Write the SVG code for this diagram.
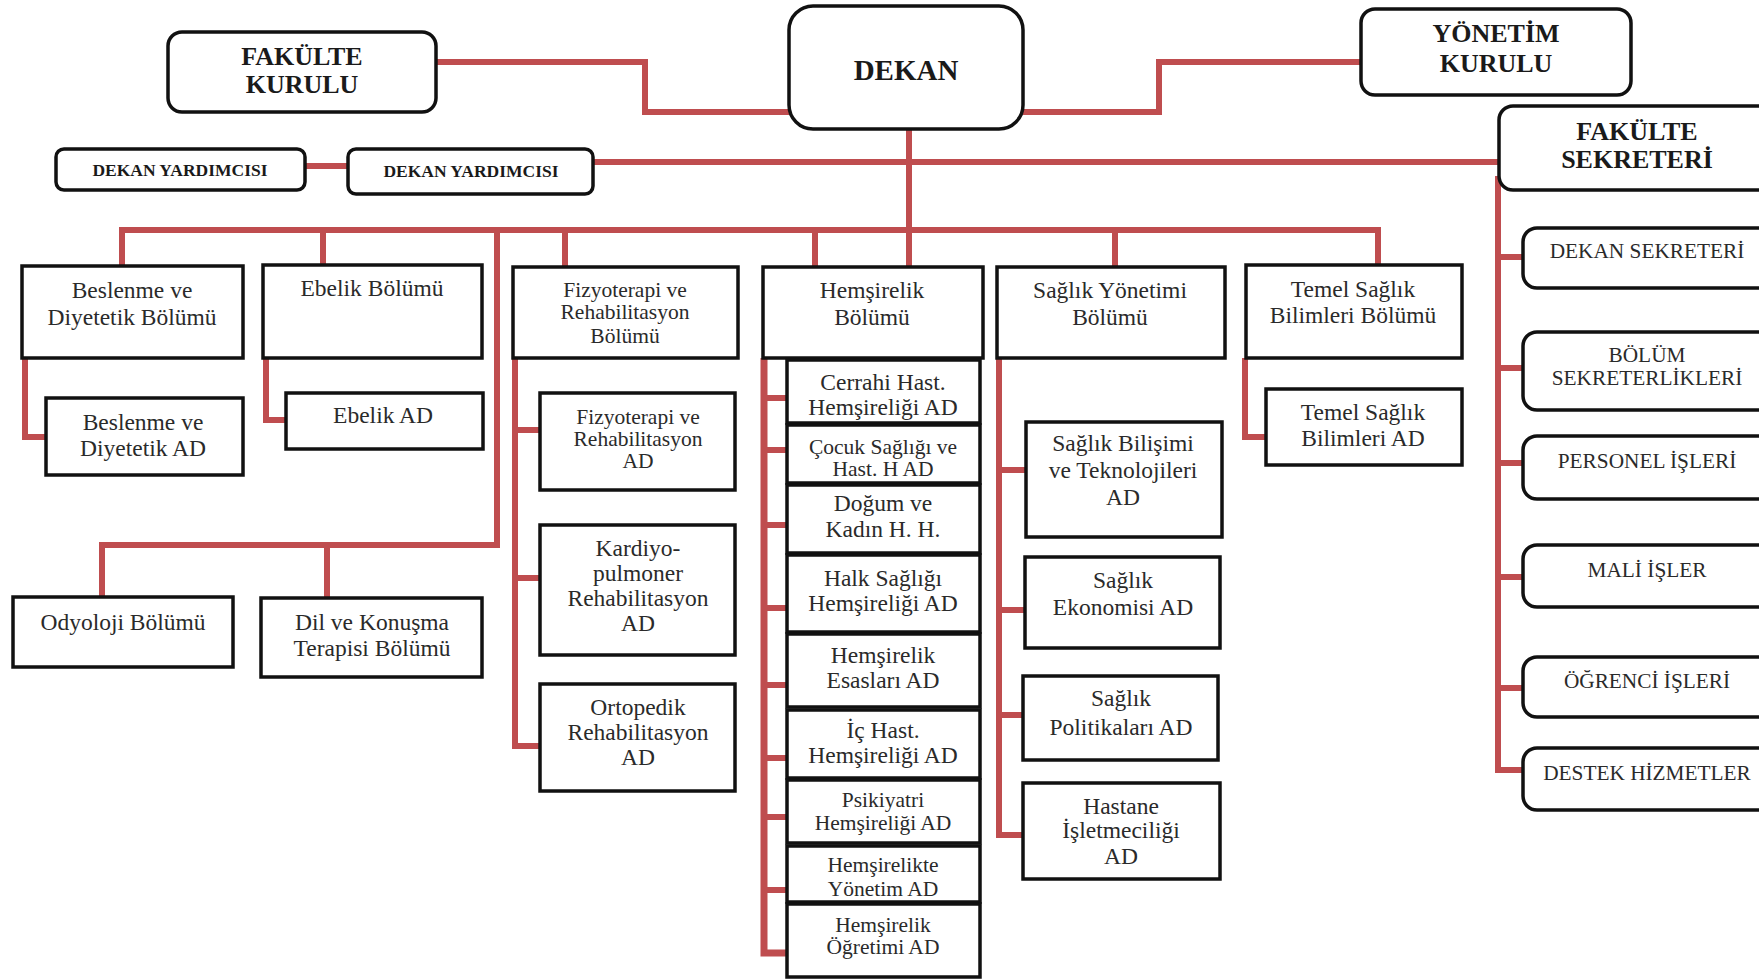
<svg xmlns="http://www.w3.org/2000/svg" width="1759" height="979" viewBox="0 0 1759 979">
<style>
  .bg{fill:#ffffff}
  .rb{fill:#fff;stroke:#111;stroke-width:3.5}
  .sq{fill:#fff;stroke:#111;stroke-width:3.5}
  .ln{fill:none;stroke:#bf4d4f;stroke-width:6;stroke-linejoin:miter;stroke-linecap:butt}
  text{font-family:"Liberation Serif","Times New Roman",serif;fill:#2a2a2a;text-anchor:middle}
  .tb{font-weight:bold;font-size:26px;fill:#1a1a1a}
  .tk{font-weight:bold;font-size:29px;fill:#1a1a1a}
  .ty{font-weight:bold;font-size:17.5px;fill:#1a1a1a}
  .tr{font-size:21.3px}
  .t24{font-size:23.5px}
  .t22{font-size:21.5px}
</style>
<rect class="bg" x="0" y="0" width="1759" height="979"/>

<g id="connectors">
  <path class="ln" d="M436 62 H645 V112 H789"/>
  <path class="ln" d="M1023 112 H1159 V62 H1361"/>
  <path class="ln" d="M305 166 H348"/>
  <path class="ln" d="M593 162 H1499"/>
  <path class="ln" d="M909 129 V267"/>
  <path class="ln" d="M122 267 V230 H1378 V265"/>
  <path class="ln" d="M323 230 V265"/>
  <path class="ln" d="M497 230 V545 H102 V597"/>
  <path class="ln" d="M327 545 V598"/>
  <path class="ln" d="M565 230 V267"/>
  <path class="ln" d="M815 230 V267"/>
  <path class="ln" d="M1115 230 V267"/>
  <path class="ln" d="M25 358 V437 H46"/>
  <path class="ln" d="M266 358 V420 H286"/>
  <path class="ln" d="M515 358 V746 H540"/>
  <path class="ln" d="M515 430 H540"/>
  <path class="ln" d="M515 578 H540"/>
  <path class="ln" d="M764 358 V953 H787" style="stroke-width:7"/>
  <path class="ln" d="M764 398 H787"/>
  <path class="ln" d="M764 450 H787"/>
  <path class="ln" d="M764 525 H787"/>
  <path class="ln" d="M764 608 H787"/>
  <path class="ln" d="M764 685 H787"/>
  <path class="ln" d="M764 758 H787"/>
  <path class="ln" d="M764 817 H787"/>
  <path class="ln" d="M764 890 H787"/>
  <path class="ln" d="M999 358 V835 H1023"/>
  <path class="ln" d="M999 470 H1026"/>
  <path class="ln" d="M999 610 H1025"/>
  <path class="ln" d="M999 715 H1023"/>
  <path class="ln" d="M1245 358 V437 H1266"/>
  <path class="ln" d="M1498 176 V770 H1523"/>
  <path class="ln" d="M1498 257 H1523"/>
  <path class="ln" d="M1498 368 H1523"/>
  <path class="ln" d="M1498 463 H1523"/>
  <path class="ln" d="M1498 577 H1523"/>
  <path class="ln" d="M1498 688 H1523"/>
</g>

<g id="fakulte-kurulu"><rect class="rb" x="168" y="32" width="268" height="80" rx="14"/>
  <text class="tb" x="302" y="65">FAKÜLTE</text><text class="tb" x="302" y="93">KURULU</text></g>
<g id="dekan"><rect class="rb" x="789" y="6" width="234" height="123" rx="24"/>
  <text class="tk" x="906" y="80">DEKAN</text></g>
<g id="yonetim-kurulu"><rect class="rb" x="1361" y="9" width="270" height="86" rx="14"/>
  <text class="tb" x="1496" y="42">YÖNETİM</text><text class="tb" x="1496" y="72">KURULU</text></g>
<g id="fakulte-sekreteri"><rect class="rb" x="1499" y="106" width="290" height="84" rx="14"/>
  <text class="tb" x="1637" y="140">FAKÜLTE</text><text class="tb" x="1637" y="168">SEKRETERİ</text></g>
<g id="dekan-yardimcisi-1"><rect class="rb" x="56" y="149" width="249" height="41" rx="8"/>
  <text class="ty" x="180" y="176">DEKAN YARDIMCISI</text></g>
<g id="dekan-yardimcisi-2"><rect class="rb" x="348" y="149" width="245" height="45" rx="8"/>
  <text class="ty" x="471" y="177">DEKAN YARDIMCISI</text></g>

<g id="dekan-sekreteri"><rect class="rb" x="1523" y="228" width="270" height="60" rx="14"/>
  <text class="tr" x="1647" y="258">DEKAN SEKRETERİ</text></g>
<g id="bolum-sekreterlikleri"><rect class="rb" x="1523" y="332" width="270" height="78" rx="14"/>
  <text class="tr" x="1647" y="362">BÖLÜM</text><text class="tr" x="1647" y="385">SEKRETERLİKLERİ</text></g>
<g id="personel-isleri"><rect class="rb" x="1523" y="436" width="270" height="63" rx="14"/>
  <text class="tr" x="1647" y="468">PERSONEL İŞLERİ</text></g>
<g id="mali-isler"><rect class="rb" x="1523" y="545" width="270" height="62" rx="14"/>
  <text class="tr" x="1647" y="577">MALİ İŞLER</text></g>
<g id="ogrenci-isleri"><rect class="rb" x="1523" y="657" width="270" height="60" rx="14"/>
  <text class="tr" x="1647" y="688">ÖĞRENCİ İŞLERİ</text></g>
<g id="destek-hizmetler"><rect class="rb" x="1523" y="748" width="270" height="62" rx="14"/>
  <text class="tr" x="1647" y="780">DESTEK HİZMETLER</text></g>

<g id="beslenme-bolumu"><rect class="sq" x="22" y="266" width="221" height="92"/>
  <text class="t24" x="132" y="298">Beslenme ve</text><text class="t24" x="132" y="325">Diyetetik Bölümü</text></g>
<g id="beslenme-ad"><rect class="sq" x="46" y="398" width="197" height="77"/>
  <text class="t24" x="143" y="430">Beslenme ve</text><text class="t24" x="143" y="456">Diyetetik AD</text></g>
<g id="ebelik-bolumu"><rect class="sq" x="263" y="265" width="219" height="93"/>
  <text class="t24" x="372" y="296">Ebelik Bölümü</text></g>
<g id="ebelik-ad"><rect class="sq" x="286" y="393" width="197" height="56"/>
  <text class="t24" x="383" y="423">Ebelik AD</text></g>
<g id="odyoloji"><rect class="sq" x="13" y="597" width="220" height="70"/>
  <text class="t24" x="123" y="630">Odyoloji Bölümü</text></g>
<g id="dil-konusma"><rect class="sq" x="261" y="598" width="221" height="79"/>
  <text class="t24" x="372" y="630">Dil ve Konuşma</text><text class="t24" x="372" y="656">Terapisi Bölümü</text></g>

<g id="fizyoterapi-bolumu"><rect class="sq" x="513" y="267" width="225" height="91"/>
  <text class="t22" x="625" y="297">Fizyoterapi ve</text><text class="t22" x="625" y="319">Rehabilitasyon</text><text class="t22" x="625" y="343">Bölümü</text></g>
<g id="fizyoterapi-ad"><rect class="sq" x="540" y="393" width="195" height="97"/>
  <text class="t22" x="638" y="424">Fizyoterapi ve</text><text class="t22" x="638" y="446">Rehabilitasyon</text><text class="t22" x="638" y="468">AD</text></g>
<g id="kardiyo-ad"><rect class="sq" x="540" y="525" width="195" height="130"/>
  <text class="t24" x="638" y="556">Kardiyo-</text><text class="t24" x="638" y="581">pulmoner</text><text class="t24" x="638" y="606">Rehabilitasyon</text><text class="t24" x="638" y="631">AD</text></g>
<g id="ortopedik-ad"><rect class="sq" x="540" y="684" width="195" height="107"/>
  <text class="t24" x="638" y="715">Ortopedik</text><text class="t24" x="638" y="740">Rehabilitasyon</text><text class="t24" x="638" y="765">AD</text></g>

<g id="hemsirelik-bolumu"><rect class="sq" x="763" y="267" width="220" height="91"/>
  <text class="t24" x="872" y="298">Hemşirelik</text><text class="t24" x="872" y="325">Bölümü</text></g>
<g id="cerrahi-ad"><rect class="sq" x="787" y="360" width="193" height="63"/>
  <text class="t24" x="883" y="390">Cerrahi Hast.</text><text class="t24" x="883" y="415">Hemşireliği AD</text></g>
<g id="cocuk-ad"><rect class="sq" x="787" y="425" width="193" height="58"/>
  <text class="t22" x="883" y="454">Çocuk Sağlığı ve</text><text class="t22" x="883" y="476">Hast. H AD</text></g>
<g id="dogum-ad"><rect class="sq" x="787" y="485" width="193" height="68"/>
  <text class="t24" x="883" y="511">Doğum ve</text><text class="t24" x="883" y="537">Kadın H. H.</text></g>
<g id="halk-ad"><rect class="sq" x="787" y="555" width="193" height="77"/>
  <text class="t24" x="883" y="586">Halk Sağlığı</text><text class="t24" x="883" y="611">Hemşireliği AD</text></g>
<g id="esaslari-ad"><rect class="sq" x="787" y="634" width="193" height="73"/>
  <text class="t24" x="883" y="663">Hemşirelik</text><text class="t24" x="883" y="688">Esasları AD</text></g>
<g id="ic-hast-ad"><rect class="sq" x="787" y="710" width="193" height="68"/>
  <text class="t24" x="883" y="738">İç Hast.</text><text class="t24" x="883" y="763">Hemşireliği AD</text></g>
<g id="psikiyatri-ad"><rect class="sq" x="787" y="780" width="193" height="63"/>
  <text class="t22" x="883" y="807">Psikiyatri</text><text class="t22" x="883" y="830">Hemşireliği AD</text></g>
<g id="yonetim-ad"><rect class="sq" x="787" y="846" width="193" height="56"/>
  <text class="t22" x="883" y="872">Hemşirelikte</text><text class="t22" x="883" y="896">Yönetim AD</text></g>
<g id="ogretimi-ad"><rect class="sq" x="787" y="904" width="193" height="73"/>
  <text class="t22" x="883" y="932">Hemşirelik</text><text class="t22" x="883" y="954">Öğretimi AD</text></g>

<g id="saglik-yonetimi-bolumu"><rect class="sq" x="997" y="267" width="228" height="91"/>
  <text class="t24" x="1110" y="298">Sağlık Yönetimi</text><text class="t24" x="1110" y="325">Bölümü</text></g>
<g id="saglik-bilisimi-ad"><rect class="sq" x="1026" y="422" width="196" height="115"/>
  <text class="t24" x="1123" y="451">Sağlık Bilişimi</text><text class="t24" x="1123" y="478">ve Teknolojileri</text><text class="t24" x="1123" y="505">AD</text></g>
<g id="saglik-ekonomisi-ad"><rect class="sq" x="1025" y="557" width="195" height="91"/>
  <text class="t24" x="1123" y="588">Sağlık</text><text class="t24" x="1123" y="615">Ekonomisi AD</text></g>
<g id="saglik-politikalari-ad"><rect class="sq" x="1023" y="676" width="195" height="84"/>
  <text class="t24" x="1121" y="706">Sağlık</text><text class="t24" x="1121" y="735">Politikaları AD</text></g>
<g id="hastane-ad"><rect class="sq" x="1023" y="783" width="197" height="96"/>
  <text class="t24" x="1121" y="814">Hastane</text><text class="t24" x="1121" y="838">İşletmeciliği</text><text class="t24" x="1121" y="864">AD</text></g>

<g id="temel-bolumu"><rect class="sq" x="1246" y="265" width="216" height="93"/>
  <text class="t24" x="1353" y="297">Temel Sağlık</text><text class="t24" x="1353" y="323">Bilimleri Bölümü</text></g>
<g id="temel-ad"><rect class="sq" x="1266" y="389" width="196" height="76"/>
  <text class="t24" x="1363" y="420">Temel Sağlık</text><text class="t24" x="1363" y="446">Bilimleri AD</text></g>
</svg>
